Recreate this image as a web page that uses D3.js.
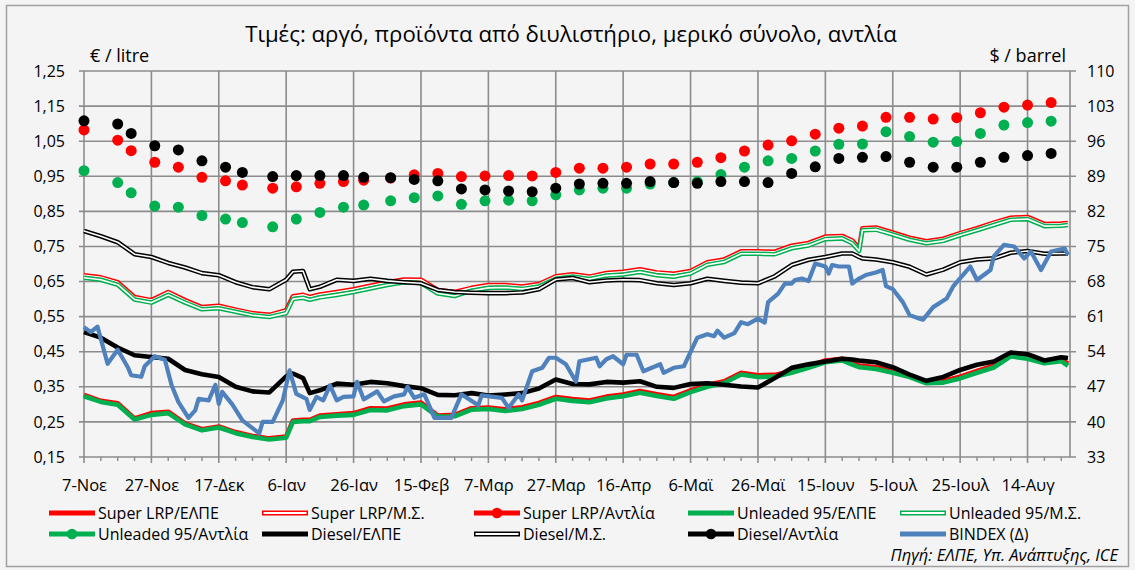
<!DOCTYPE html>
<html><head><meta charset="utf-8">
<script src="https://cdn.jsdelivr.net/npm/d3@7"></script>
<style>
body{margin:0;background:#f4f4f4;}
svg text{font-family:"Open Sans",sans-serif;fill:#000;}
</style></head><body>
<svg id="c" width="1135" height="570"></svg>
<script>
// ---------------- DATA ----------------
const titleText = "Τιμές: αργό, προϊόντα από διυλιστήριο, μερικό σύνολο, αντλία";
const xTickDays = [0,20,40,60,80,100,120,140,160,180,200,220,240,260,280];
const xTickLabels = ["7-Νοε","27-Νοε","17-Δεκ","6-Ιαν","26-Ιαν","15-Φεβ","7-Μαρ","27-Μαρ","16-Απρ","6-Μαϊ","26-Μαϊ","15-Ιουν","5-Ιουλ","25-Ιουλ","14-Αυγ"];
const yLeftTicks = [0.15,0.25,0.35,0.45,0.55,0.65,0.75,0.85,0.95,1.05,1.15,1.25];
const yRightTicks = [33,40,47,54,61,68,75,82,89,96,103,110];

// days since 7-Nov (shared by the daily ΕΛΠΕ / Μ.Σ. series)
const days = [0,5,10,15,20,25,30,35,40,45,50,55,60,62,65,67,70,75,80,85,90,95,100,105,110,115,120,125,130,135,140,145,150,155,160,165,170,175,180,185,190,195,200,205,210,215,220,225,228,230,231,235,240,245,250,255,260,265,270,275,280,285,290,292];

const superELPE = [0.327,0.31,0.303,0.26,0.275,0.279,0.246,0.229,0.237,0.221,0.21,0.203,0.208,0.254,0.256,0.256,0.268,0.272,0.275,0.289,0.288,0.3,0.305,0.268,0.27,0.289,0.291,0.286,0.292,0.304,0.321,0.315,0.311,0.322,0.328,0.338,0.329,0.321,0.34,0.355,0.366,0.39,0.383,0.384,0.395,0.409,0.425,0.43,0.418,0.411,0.41,0.406,0.395,0.383,0.364,0.367,0.379,0.395,0.41,0.442,0.435,0.422,0.428,0.416];
const superMS = [0.668,0.662,0.648,0.606,0.597,0.62,0.597,0.577,0.581,0.57,0.56,0.555,0.568,0.608,0.612,0.606,0.613,0.62,0.628,0.638,0.648,0.656,0.655,0.626,0.62,0.632,0.64,0.64,0.636,0.643,0.665,0.671,0.664,0.674,0.678,0.685,0.676,0.672,0.68,0.705,0.713,0.736,0.736,0.735,0.752,0.76,0.778,0.78,0.767,0.745,0.802,0.804,0.79,0.775,0.765,0.772,0.788,0.802,0.818,0.832,0.834,0.814,0.815,0.817];
const unlELPE = [0.323,0.307,0.299,0.257,0.27,0.275,0.243,0.226,0.234,0.218,0.207,0.2,0.205,0.25,0.252,0.252,0.264,0.268,0.27,0.284,0.283,0.295,0.3,0.265,0.266,0.285,0.287,0.281,0.287,0.299,0.316,0.31,0.306,0.317,0.323,0.333,0.324,0.316,0.335,0.35,0.361,0.385,0.378,0.379,0.39,0.404,0.42,0.425,0.413,0.406,0.405,0.401,0.39,0.378,0.36,0.362,0.374,0.39,0.405,0.437,0.43,0.417,0.423,0.41];
const unlMS = [0.661,0.655,0.641,0.599,0.59,0.612,0.59,0.571,0.574,0.564,0.554,0.549,0.56,0.6,0.604,0.598,0.605,0.612,0.62,0.63,0.64,0.648,0.646,0.616,0.609,0.624,0.632,0.633,0.629,0.636,0.658,0.664,0.657,0.667,0.67,0.677,0.668,0.664,0.673,0.698,0.706,0.729,0.729,0.728,0.745,0.753,0.771,0.773,0.759,0.737,0.796,0.798,0.784,0.769,0.759,0.766,0.782,0.796,0.811,0.826,0.828,0.808,0.809,0.811];
const dslELPE = [0.506,0.49,0.462,0.44,0.435,0.43,0.398,0.386,0.378,0.35,0.337,0.334,0.38,0.388,0.375,0.332,0.34,0.359,0.356,0.364,0.36,0.352,0.346,0.327,0.326,0.332,0.325,0.328,0.332,0.345,0.371,0.358,0.357,0.364,0.362,0.366,0.35,0.347,0.358,0.36,0.356,0.351,0.348,0.375,0.404,0.414,0.422,0.43,0.428,0.425,0.424,0.42,0.406,0.385,0.367,0.378,0.398,0.413,0.422,0.448,0.443,0.425,0.434,0.432];
const dslMS = [0.794,0.779,0.762,0.728,0.72,0.703,0.69,0.674,0.668,0.648,0.634,0.628,0.655,0.678,0.68,0.628,0.635,0.655,0.652,0.658,0.652,0.648,0.645,0.626,0.62,0.618,0.617,0.617,0.619,0.628,0.656,0.66,0.648,0.653,0.655,0.654,0.645,0.64,0.645,0.658,0.652,0.647,0.645,0.665,0.697,0.712,0.72,0.73,0.73,0.72,0.716,0.713,0.705,0.692,0.67,0.684,0.705,0.713,0.716,0.732,0.737,0.729,0.73,0.73];

// pump (Αντλία) survey days and prices
const pumpDays = [0,10,14,21,28,35,42,47,56,63,70,77,83,91,98,105,112,119,126,133,140,147,154,161,168,175,182,189,196,203,210,217,224,231,238,245,252,259,266,273,280,287];
const superPump = [1.082,1.053,1.023,0.99,0.976,0.947,0.937,0.925,0.916,0.92,0.93,0.935,0.939,0.945,0.954,0.958,0.949,0.951,0.952,0.951,0.961,0.973,0.973,0.976,0.985,0.985,0.99,1.003,1.022,1.039,1.051,1.07,1.087,1.093,1.118,1.118,1.113,1.117,1.131,1.147,1.153,1.16];
const unlPump = [0.966,0.932,0.903,0.865,0.862,0.838,0.828,0.818,0.806,0.828,0.847,0.862,0.868,0.88,0.889,0.894,0.87,0.88,0.882,0.88,0.897,0.911,0.916,0.916,0.928,0.932,0.935,0.955,0.976,0.994,1.001,1.022,1.041,1.042,1.077,1.063,1.047,1.049,1.072,1.096,1.103,1.107];
const dslPump = [1.108,1.099,1.072,1.037,1.025,0.994,0.976,0.961,0.949,0.952,0.952,0.952,0.947,0.946,0.941,0.937,0.914,0.911,0.908,0.906,0.916,0.928,0.93,0.93,0.935,0.932,0.93,0.935,0.935,0.932,0.958,0.977,1.001,1.004,1.006,0.99,0.976,0.976,0.99,1.004,1.009,1.015];

// BINDEX ($/barrel, right axis)
const bindexDays = [0,2,4,7,10,13,14,17,18,21,24,26,28,31,33,34,37,39,40,41,44,47,52,53,56,59,61,63,66,67,69,71,73,75,77,80,81,83,87,89,92,95,96,98,101,104,109,112,117,118,124,126,129,130,133,136,138,140,143,146,147,152,153,155,157,160,161,164,166,171,172,175,178,182,185,187,188,190,193,195,197,200,202,203,206,208,210,211,213,215,217,220,221,222,224,227,228,230,232,235,237,238,240,243,245,248,249,252,256,258,259,263,265,269,270,273,276,279,281,284,287,291,292];
const bindexVals = [58.9,57.9,59.0,51.6,54.4,50.9,49.3,49.0,51.1,53.1,52.4,47.3,44.0,40.8,42.3,44.6,44.3,47.4,43.6,46.0,43.5,40.3,37.7,40.0,40.0,44.3,50.3,45.6,44.6,42.4,45.0,44.3,47.3,44.3,45.0,45.1,48.0,44.5,46.1,44.1,45.1,45.5,47.0,44.8,45.5,40.8,40.8,45.5,43.3,45.3,44.8,42.8,45.5,44.3,50.1,50.8,52.8,52.8,51.5,48.0,52.1,52.8,51.1,52.5,53.1,51.5,53.4,53.4,50.1,51.5,49.8,50.8,51.1,56.8,57.5,57.1,58.2,56.8,57.7,59.9,59.5,60.6,59.8,63.9,65.6,67.6,67.6,68.3,68.6,68.1,71.6,71.0,69.6,71.3,71.0,71.0,67.6,68.6,69.3,69.8,70.3,67.1,66.5,63.9,61.3,60.6,60.4,62.9,64.6,67.1,67.9,71.0,68.3,70.3,73.0,75.3,75.0,72.6,74.0,70.3,74.0,74.6,73.3];

const legendRows = [
  ["Super LRP/ΕΛΠΕ","Super LRP/Μ.Σ.","Super LRP/Αντλία","Unleaded 95/ΕΛΠΕ","Unleaded 95/Μ.Σ."],
  ["Unleaded 95/Αντλία","Diesel/ΕΛΠΕ","Diesel/Μ.Σ.","Diesel/Αντλία","BINDEX (Δ)"]
];
const sourceText = "Πηγή: ΕΛΠΕ, Υπ. Ανάπτυξης, ICE";

// ---------------- DRAW ----------------
const RED="#ff0000", GREEN="#00b050", BLACK="#000000", BLUE="#4f81bd", GRID="#8c8c8c";
const svg = d3.select("#c");
const L=84, R=1070, T=71, B=457;
const x = d3.scaleLinear().domain([0,292.6]).range([L,R]);
const yL = d3.scaleLinear().domain([0.15,1.25]).range([B,T]);
const yR = d3.scaleLinear().domain([33,110]).range([B,T]);

svg.append("rect").attr("x",6.5).attr("y",5.5).attr("width",1122).attr("height",561)
  .attr("fill","#f4f4f4").attr("stroke","#a0a0a0").attr("stroke-width",1.5);

svg.append("text").attr("x",571).attr("y",42).attr("text-anchor","middle")
  .style("font-size","22.2px").text(titleText);
svg.append("text").attr("x",90).attr("y",62).style("font-size","18px").text("€ / litre");
svg.append("text").attr("x",1066).attr("y",62).attr("text-anchor","end").style("font-size","18px").text("$ / barrel");

const g = svg.append("g");
// horizontal grid with outer ticks
g.selectAll("line.hg").data(yLeftTicks).join("line")
  .attr("x1",L-5).attr("x2",R+6).attr("y1",d=>yL(d)).attr("y2",d=>yL(d))
  .attr("stroke",GRID).attr("stroke-width",1.6);
// vertical grid (major) + minor ticks
g.selectAll("line.vg").data(xTickDays).join("line")
  .attr("x1",d=>x(d)).attr("x2",d=>x(d)).attr("y1",T).attr("y2",B+6)
  .attr("stroke",GRID).attr("stroke-width",1.6);
g.append("line").attr("x1",R).attr("x2",R).attr("y1",T).attr("y2",B).attr("stroke",GRID).attr("stroke-width",1.6);
const minor = d3.range(0,293,5).filter(d=>d%20!==0);
g.selectAll("line.mt").data(minor).join("line")
  .attr("x1",d=>x(d)).attr("x2",d=>x(d)).attr("y1",B).attr("y2",B+4)
  .attr("stroke",GRID).attr("stroke-width",1.4);

// axis labels via d3 axes
const fmt = d => d3.format(".2f")(d).replace(".",",");
const axL = svg.append("g").attr("transform",`translate(${L-5},0)`)
  .call(d3.axisLeft(yL).tickValues(yLeftTicks).tickFormat(fmt).tickSize(0).tickPadding(14));
const axR = svg.append("g").attr("transform",`translate(${R+6},0)`)
  .call(d3.axisRight(yR).tickValues(yRightTicks).tickSize(0).tickPadding(11));
const axB = svg.append("g").attr("transform",`translate(0,${B})`)
  .call(d3.axisBottom(x).tickValues(xTickDays).tickFormat((d,i)=>xTickLabels[i]).tickSize(0).tickPadding(22));
[axL,axR,axB].forEach(a=>{a.select(".domain").remove(); a.selectAll("text").attr("fill","#000");});
axB.selectAll("text").style("font-size","16.5px");
axL.selectAll("text").style("font-size","16px");
axR.selectAll("text").style("font-size","16px");

// lines
const lineL = d3.line().x(d=>x(d[0])).y(d=>yL(d[1]));
const pair = (xs,vs)=>xs.map((d,i)=>[d,vs[i]]);
function solid(vals,color,w){
  svg.append("path").attr("d",lineL(pair(days,vals))).attr("fill","none")
    .attr("stroke",color).attr("stroke-width",w).attr("stroke-linejoin","round");
}
function dbl(vals,color){
  const d=lineL(pair(days,vals));
  svg.append("path").attr("d",d).attr("fill","none").attr("stroke",color).attr("stroke-width",4.6).attr("stroke-linejoin","round");
  svg.append("path").attr("d",d).attr("fill","none").attr("stroke","#ffffff").attr("stroke-width",1.6).attr("stroke-linejoin","round");
}
function dots(vals,color){
  svg.append("g").selectAll("circle").data(pair(pumpDays,vals)).join("circle")
    .attr("cx",d=>x(d[0])).attr("cy",d=>yL(d[1])).attr("r",5.5).attr("fill",color);
}
solid(superELPE,RED,4.6);
dbl(superMS,RED);
dots(superPump,RED);
solid(unlELPE,GREEN,4.6);
dbl(unlMS,GREEN);
dots(unlPump,GREEN);
solid(dslELPE,BLACK,4.6);
dbl(dslMS,BLACK);
dots(dslPump,BLACK);
const lineR = d3.line().x(d=>x(d[0])).y(d=>yR(d[1]));
svg.append("path").attr("d",lineR(pair(bindexDays,bindexVals))).attr("fill","none")
  .attr("stroke",BLUE).attr("stroke-width",4.2).attr("stroke-linejoin","round");

// legend
const colX = [49,262,474,688,900];
const rowY = [513,534];
const styles = [["solid",RED],["dbl",RED],["dot",RED],["solid",GREEN],["dbl",GREEN],
                ["dot",GREEN],["solid",BLACK],["dbl",BLACK],["dot",BLACK],["solid",BLUE]];
const lg = svg.append("g");
legendRows.forEach((row,ri)=>row.forEach((label,ci)=>{
  const [st,col]=styles[ri*5+ci];
  const x0=colX[ci], y0=rowY[ri];
  lg.append("line").attr("x1",x0).attr("x2",x0+46).attr("y1",y0).attr("y2",y0)
    .attr("stroke",col).attr("stroke-width",st==="dbl"?5:4.8);
  if(st==="dbl") lg.append("line").attr("x1",x0+1.5).attr("x2",x0+44.5).attr("y1",y0).attr("y2",y0)
    .attr("stroke","#ffffff").attr("stroke-width",1.8);
  if(st==="dot") lg.append("circle").attr("cx",x0+23).attr("cy",y0).attr("r",5.3).attr("fill",col);
  lg.append("text").attr("x",x0+49).attr("y",y0).attr("dy","0.36em").style("font-size","16px").text(label);
}));
svg.append("text").attr("x",1118).attr("y",555).attr("dy","0.36em").attr("text-anchor","end")
  .style("font-size","16.5px").style("font-style","italic").text(sourceText);
</script>
</body></html>
